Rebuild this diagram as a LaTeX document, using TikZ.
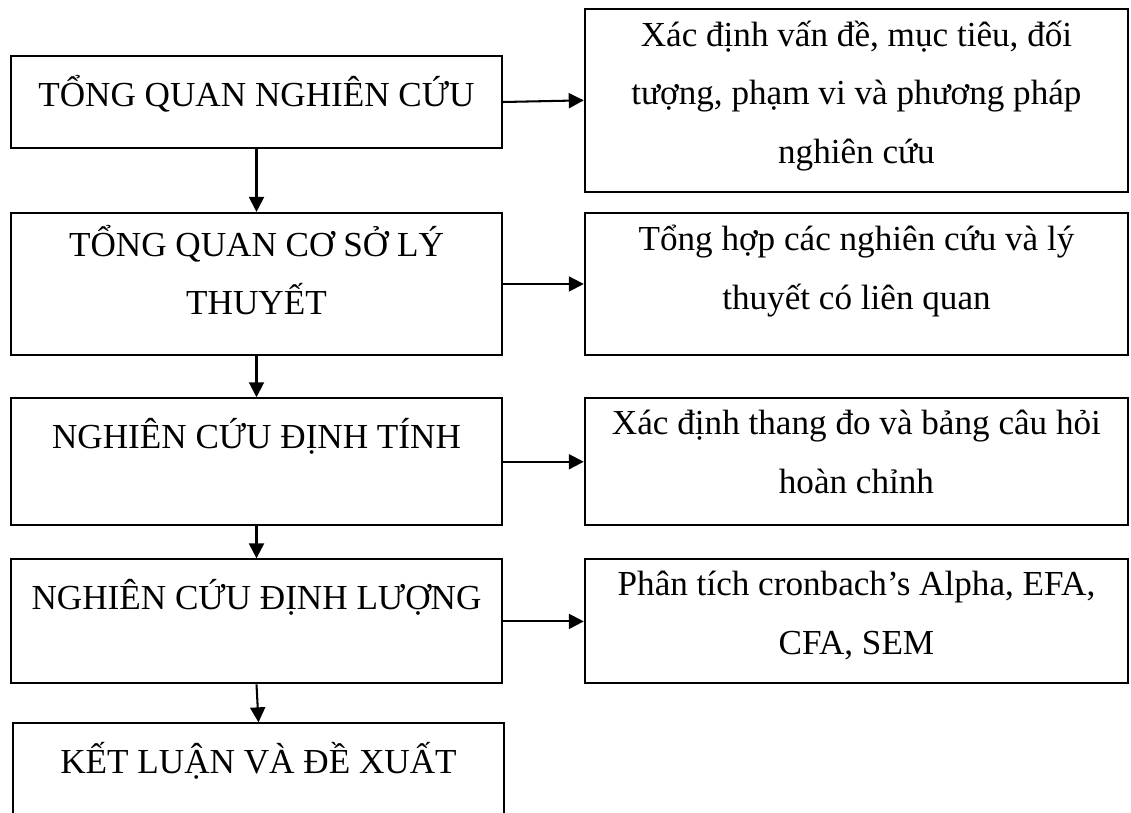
\documentclass[tikz,border=0pt]{standalone}
\usepackage{fontspec}
\setmainfont{Liberation Serif}
\usetikzlibrary{positioning, arrows.meta}
\tikzstyle{phase} = [
rectangle,
minimum width=5.89cm,
line width=0.7pt,
draw
]
\tikzstyle{detail} = [
rectangle,
minimum width=6.52cm,
line width=0.7pt,
draw
]
\tikzstyle{boxtext} = [
anchor=north,
align=center,
inner sep=0pt,
font=\fontsize{12}{20}\selectfont,
execute at begin node=\rule{0pt}{13pt}
]
\tikzstyle{arrow}=[-{Triangle[length=1.8mm,width=1.8mm]},line width=0.7pt]

\begin{document}
\begin{tikzpicture}
        \clip (0,0) rectangle (13.572,-9.744);
        
        % left column
        \node (tongquan) [phase, minimum height=1.104cm] at (3.078,-1.224) {};
        
        \node (coso) [phase, minimum height=1.704cm, below=7.55mm of tongquan] {};
        
        \node (dinhtinh) [phase, minimum height=1.524cm, below=4.95mm of coso] {};
        
        \node (dinhluong) [phase, minimum height=1.488cm, below=3.85mm of dinhtinh] {};
        
        \node (ketluan) [phase, minimum height=1.6cm, below=4.55mm of dinhluong, xshift=0.24mm] {};
        
        % right column
        \node (muctieu) [detail, minimum height=2.196cm, right=9.7mm of tongquan, yshift=0.2mm] {};
        
        \node (tonghop) [detail, minimum height=1.704cm, right=9.7mm of coso] {};
        
        \node (thangdo) [detail, minimum height=1.524cm, right=9.7mm of dinhtinh] {};
        
        \node (phantich) [detail, minimum height=1.488cm, right=9.7mm of dinhluong] {};
        
        % texts
        \node (tongquantxt) [boxtext] at ([yshift=-1.5mm]tongquan.north) {TỔNG QUAN NGHIÊN CỨU};
        \node (cosotxt) [boxtext] at ([yshift=-1.5mm]coso.north) {TỔNG QUAN CƠ SỞ LÝ\\THUYẾT};
        \node (dinhtinhtxt) [boxtext] at ([yshift=-1.5mm]dinhtinh.north) {NGHIÊN CỨU ĐỊNH TÍNH};
        \node (dinhluongtxt) [boxtext] at ([yshift=-1.5mm]dinhluong.north) {NGHIÊN CỨU ĐỊNH LƯỢNG};
        \node (ketluantxt) [boxtext] at ([yshift=-1.5mm]ketluan.north) {KẾT LUẬN VÀ ĐỀ XUẤT};
        
        \node (muctieutxt) [boxtext] at ([yshift=-1.5mm]muctieu.north) {Xác định vấn đề, mục tiêu, đối\\tượng, phạm vi và phương pháp\\nghiên cứu};
        \node (tonghoptxt) [boxtext] at ([yshift=-1.5mm]tonghop.north) {Tổng hợp các nghiên cứu và lý\\thuyết có liên quan};
        \node (thangdotxt) [boxtext] at ([yshift=-1.5mm]thangdo.north) {Xác định thang đo và bảng câu hỏi\\hoàn chỉnh};
        \node (phantichtxt) [boxtext] at ([yshift=-1.5mm]phantich.north) {Phân tích cronbach’s Alpha, EFA,\\CFA, SEM};
        
        \draw [arrow] (tongquan)--(coso);
        
        \draw [arrow] (coso)--(dinhtinh);
        
        \draw [arrow] (dinhtinh)--(dinhluong);
        
        \draw [arrow] (dinhluong.south)--(ketluan.north);
        
        \draw [arrow] (tongquan.east)--(muctieu.west);
        
        \draw [arrow] (coso)--(tonghop);
        
        \draw [arrow] (dinhtinh)--(thangdo);
        
        \draw [arrow] (dinhluong)--(phantich);
        
        \end{tikzpicture}
\end{document}
